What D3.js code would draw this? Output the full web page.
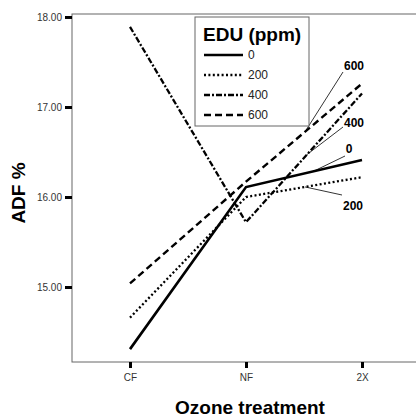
<!DOCTYPE html>
<html>
<head>
<meta charset="utf-8">
<script src="https://cdn.jsdelivr.net/npm/d3@7"></script>
<style>
  body { margin: 0; background: #fff; }
  svg { display: block; font-family: "Liberation Sans", Arial, sans-serif; }
</style>
</head>
<body>
<svg width="416" height="417"></svg>
<script>
// data
const treatments = ['CF', 'NF', '2X'];
const eduLevels = ['0', '200', '400', '600'];
const adf0   = [14.31, 16.11, 16.41];
const adf200 = [14.66, 16.00, 16.22];
const adf400 = [17.89, 15.72, 17.15];
const adf600 = [15.04, 16.17, 17.26];
const yTicks = [15, 16, 17, 18];

const series = [
  { name: '0',   values: adf0,   dash: null,      width: 2.6 },
  { name: '200', values: adf200, dash: '2,2.4',   width: 2.3 },
  { name: '400', values: adf400, dash: '6,2,2,2', width: 2.3 },
  { name: '600', values: adf600, dash: '7,4',     width: 2.4 }
];

const svg = d3.select('svg');
const plotL = 72, plotT = 14, plotR = 420, plotB = 362;

const x = d3.scalePoint().domain(treatments).range([plotL, plotR]).padding(0.5);
const y = d3.scaleLinear().domain([14.167, 18.033]).range([plotB, plotT]);

// frame
svg.append('rect')
  .attr('x', plotL).attr('y', plotT)
  .attr('width', plotR - plotL).attr('height', plotB - plotT)
  .attr('fill', 'none').attr('stroke', '#666').attr('stroke-width', 1);

const yAxis = svg.append('g')
  .attr('transform', `translate(${plotL},0)`)
  .call(d3.axisLeft(y).tickValues(yTicks).tickFormat(d3.format('.2f')).tickSize(7).tickPadding(3));
const xAxis = svg.append('g')
  .attr('transform', `translate(0,${plotB})`)
  .call(d3.axisBottom(x).tickSize(6).tickPadding(6));

[yAxis, xAxis].forEach(a => {
  a.select('.domain').remove();
  a.selectAll('.tick line').attr('stroke', '#000').attr('stroke-width', 3);
  a.selectAll('.tick text').attr('fill', '#333').style('font-size', '10px')
    .style('font-family', '"Liberation Sans", Arial, sans-serif');
});

// axis titles
svg.append('text')
  .attr('x', 250).attr('y', 414)
  .attr('text-anchor', 'middle')
  .style('font-size', '19px').style('font-weight', 'bold')
  .text('Ozone treatment');

svg.append('text')
  .attr('transform', 'translate(25,193) rotate(-90)')
  .attr('text-anchor', 'middle')
  .style('font-size', '19px').style('font-weight', 'bold')
  .text('ADF %');

// lines
const line = d3.line()
  .x((d, i) => x(treatments[i]))
  .y(d => y(d));

svg.selectAll('.series').data(series)
  .enter().append('path')
  .attr('class', 'series')
  .attr('d', d => line(d.values))
  .attr('fill', 'none')
  .attr('stroke', '#000')
  .attr('stroke-width', d => d.width)
  .attr('stroke-dasharray', d => d.dash);

// end labels with leader lines (anchor x on NF-2X segment, text position)
const endLabels = {
  '600': { ax: 305, lx: 343, ly: 72,  tx: 354, ty: 70 },
  '400': { ax: 307, lx: 343, ly: 127, tx: 354, ty: 127 },
  '0':   { ax: 313, lx: 345, ly: 156, tx: 349, ty: 153 },
  '200': { ax: 305, lx: 342, ly: 195, tx: 353, ty: 210 }
};

series.forEach(s => {
  const p = endLabels[s.name];
  const t = (p.ax - x('NF')) / (x('2X') - x('NF'));
  const ay = y(s.values[1] + t * (s.values[2] - s.values[1]));
  svg.append('line')
    .attr('x1', p.ax).attr('y1', ay)
    .attr('x2', p.lx).attr('y2', p.ly)
    .attr('stroke', '#000').attr('stroke-width', 0.8);
  svg.append('text')
    .attr('x', p.tx).attr('y', p.ty)
    .attr('text-anchor', 'middle')
    .style('font-size', '12px').style('font-weight', 'bold')
    .text(s.name);
});

// legend
const legend = svg.append('g');
legend.append('rect')
  .attr('x', 195).attr('y', 17)
  .attr('width', 114).attr('height', 109)
  .attr('fill', '#fff').attr('stroke', '#666').attr('stroke-width', 1);
legend.append('text')
  .attr('x', 203).attr('y', 41)
  .style('font-size', '19px').style('font-weight', 'bold')
  .text('EDU (ppm)');

const items = legend.selectAll('.item').data(series)
  .enter().append('g')
  .attr('class', 'item')
  .attr('transform', (d, i) => `translate(0,${55 + i * 20})`);
items.append('line')
  .attr('x1', 204).attr('x2', 243)
  .attr('stroke', '#000')
  .attr('stroke-width', d => d.width)
  .attr('stroke-dasharray', d => d.dash);
items.append('text')
  .attr('x', 248).attr('dy', '0.35em')
  .style('font-size', '12px')
  .attr('fill', '#222')
  .text(d => d.name);
</script>
</body>
</html>
